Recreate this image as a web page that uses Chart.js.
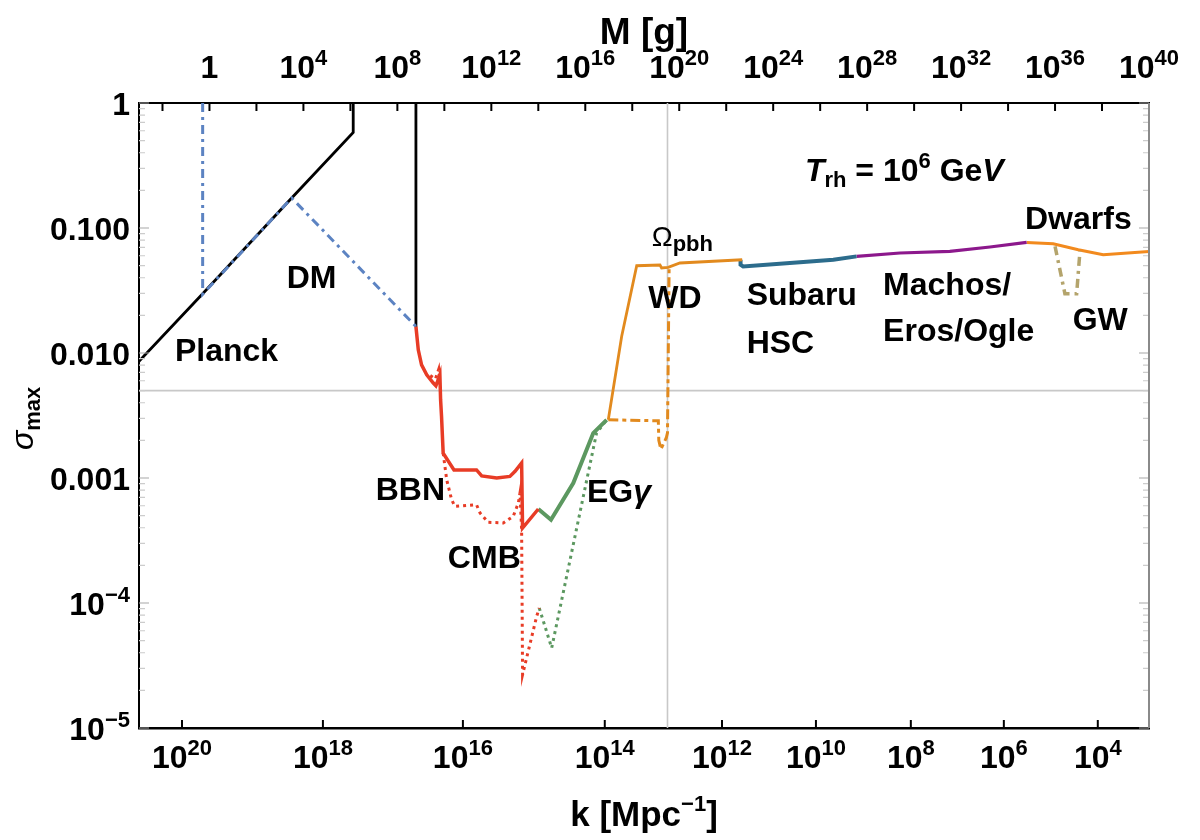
<!DOCTYPE html>
<html>
<head>
<meta charset="utf-8">
<script src="https://cdn.jsdelivr.net/npm/chart.js@4.4.1/dist/chart.umd.min.js"></script>
<style>
  body { margin: 0; background: #fff; }
  #wrap { width: 1200px; height: 840px; }
</style>
</head>
<body>
<div id="wrap"><canvas id="myChart"></canvas></div>
<script>
// curves: log10 of M [g] and sigma_max
const planckLogM = [-3.0, -0.33, 3.50, 6.12, 6.12];
const planckSigma = [0.00857, 0.0292, 0.174, 0.582, 1];

const planckCutLogM = [8.79, 8.79];
const planckCutSigma = [1, 0.0163];

const dmLogM = [-0.29, -0.29, 3.50, 8.79];
const dmSigma = [1, 0.0295, 0.174, 0.0163];

const bbnLogM = [8.79, 8.89, 9.03, 9.25, 9.53, 9.64, 9.74, 9.81, 9.84, 9.88, 9.95, 10.41, 11.37, 11.59, 12.23, 12.79, 13.01, 13.29, 13.33, 14.00];
const bbnSigma = [0.0163, 0.0106, 0.00805, 0.0067, 0.00575, 0.00547, 0.00611, 0.0067, 0.00423, 0.00311, 0.00158, 0.00116, 0.00116, 0.00104, 0.00100, 0.00103, 0.00113, 0.00132, 0.000398, 0.000565];

const bbnBumpLogM = [9.40, 9.62, 9.76, 9.80];
const bbnBumpSigma = [0.0066, 0.0062, 0.0074, 0.0060];

const cmbLogM = [9.95, 10.10, 10.31, 10.45, 11.37, 11.52, 11.87, 12.51, 12.93, 13.15, 13.22, 13.29, 13.33, 13.93, 14.04];
const cmbSigma = [0.00158, 0.000968, 0.00067, 0.000593, 0.000611, 0.000525, 0.000442, 0.000437, 0.000493, 0.00063, 0.000759, 0.000385, 0.0000267, 0.0000782, 0.0000912];

const egLogM = [14.00, 14.54, 15.49, 16.34, 16.91];
const egSigma = [0.000565, 0.000463, 0.000912, 0.00229, 0.00292];

const egDotLogM = [14.04, 14.57, 16.48, 16.91];
const egDotSigma = [0.0000912, 0.0000437, 0.00229, 0.00292];

const wdLogM = [16.98, 17.55, 18.19, 19.18, 19.25, 19.53, 20.03, 22.68];
const wdSigma = [0.00292, 0.0136, 0.0499, 0.0506, 0.0479, 0.0484, 0.0525, 0.0557];

const wdDashLogM = [16.98, 19.11, 19.13, 19.22, 19.45, 19.50, 19.57];
const wdDashSigma = [0.00292, 0.00287, 0.0020, 0.0017, 0.0021, 0.0023, 0.0493];

const hscLogM = [22.61, 22.61, 22.72, 25.14, 26.56, 27.55];
const hscSigma = [0.0557, 0.0508, 0.0493, 0.0531, 0.0557, 0.0593];

const machoLogM = [27.55, 29.40, 31.52, 33.23, 34.79];
const machoSigma = [0.0593, 0.0631, 0.0650, 0.0705, 0.0767];

const dwarfLogM = [34.79, 35.92, 36.99, 38.05, 40.0];
const dwarfSigma = [0.0767, 0.0748, 0.0670, 0.0611, 0.0650];

const gwLogM = [36.0, 36.42, 36.92, 37.06];
const gwSigma = [0.0713, 0.0298, 0.0298, 0.0650];

// reference lines
const refSigma = 0.005;
const refLogM = 19.5;

// ticks: [base, exponent]
const yTickValues = [1e-5, 1e-4, 1e-3, 1e-2, 1e-1, 1];
const yTickLabels = [['10', '−5'], ['10', '−4'], ['0.001', ''], ['0.010', ''], ['0.100', ''], ['1', '']];
const massTickExp = [-2, 0, 2, 4, 6, 8, 10, 12, 14, 16, 18, 20, 22, 24, 26, 28, 30, 32, 34, 36, 38, 40];
const kTickExp = [20, 18, 16, 14, 12, 10, 8, 6, 4];
const kTickLogM = [-1.17, 4.83, 10.79, 16.83, 21.82, 25.82, 29.86, 33.82, 37.82];

const FONT = '"Liberation Sans", Arial, Helvetica, sans-serif';
Chart.defaults.font.family = FONT;

const pts = (logM, sig) => logM.map((e, i) => ({ x: Math.pow(10, e), y: sig[i] }));

const line = (data, color, width, dash, order) => ({
  data: data,
  borderColor: color,
  borderWidth: width,
  borderDash: dash || [],
  pointRadius: 0,
  tension: 0,
  fill: false,
  order: order
});

const B = 'bold 32px ' + FONT;
const S = 'bold 22px ' + FONT;
const curveLabels = [
  { m: -1.47, s: -2.067, parts: [{ t: 'Planck', f: B }] },
  { m: 3.29, s: -1.48, parts: [{ t: 'DM', f: B }] },
  { m: 7.08, s: -3.174, parts: [{ t: 'BBN', f: B }] },
  { m: 10.15, s: -3.718, parts: [{ t: 'CMB', f: B }] },
  { m: 16.07, s: -3.19, parts: [{ t: 'EG', f: B }, { t: 'γ', f: 'italic bold 32px ' + FONT }] },
  { m: 18.83, s: -1.147, parts: [{ t: 'Ω', f: '28px ' + FONT }, { t: 'pbh', f: S, dy: 5 }] },
  { m: 18.68, s: -1.64, parts: [{ t: 'WD', f: B }] },
  { m: 22.87, s: -1.614, parts: [{ t: 'Subaru', f: B }] },
  { m: 22.87, s: -2.0, parts: [{ t: 'HSC', f: B }] },
  { m: 28.68, s: -1.534, parts: [{ t: 'Machos/', f: B }] },
  { m: 28.68, s: -1.907, parts: [{ t: 'Eros/Ogle', f: B }] },
  { m: 34.72, s: -1.006, parts: [{ t: 'Dwarfs', f: B }] },
  { m: 36.75, s: -1.814, parts: [{ t: 'GW', f: B }] },
  { m: 25.35, s: -0.627, parts: [
    { t: 'T', f: 'italic bold 32px ' + FONT }, { t: 'rh', f: S, dy: 6 },
    { t: ' = 10', f: B }, { t: '6', f: S, dy: -13 },
    { t: ' Ge', f: B }, { t: 'V', f: 'italic bold 32px ' + FONT }] }
];

function richWidth(ctx, parts) {
  let w = 0;
  parts.forEach(p => { ctx.font = p.f; w += ctx.measureText(p.t).width; });
  return w;
}

function drawRich(ctx, parts, x, y, align) {
  let cx = x;
  if (align === 'center') cx = x - richWidth(ctx, parts) / 2;
  if (align === 'right') cx = x - richWidth(ctx, parts);
  parts.forEach(p => {
    ctx.font = p.f;
    ctx.fillText(p.t, cx, y + (p.dy || 0));
    cx += ctx.measureText(p.t).width;
  });
}

const powParts = (base, exp) => exp ? [{ t: base, f: B }, { t: exp, f: S, dy: -13 }] : [{ t: base, f: B }];

const textPlugin = {
  id: 'textPlugin',
  afterDraw(chart) {
    const { ctx, chartArea: a, scales: { x, y, xk } } = chart;
    ctx.save();
    ctx.fillStyle = '#000';
    ctx.textAlign = 'left';
    ctx.textBaseline = 'alphabetic';
    curveLabels.forEach(l => {
      drawRich(ctx, l.parts, x.getPixelForValue(Math.pow(10, l.m)), y.getPixelForValue(Math.pow(10, l.s)));
    });

    // tick labels
    x.ticks.forEach((t, i) => {
      const e = massTickExp[i];
      if (e % 4 !== 0) return;
      const parts = e === 0 ? powParts('1', '') : powParts('10', String(e));
      drawRich(ctx, parts, x.getPixelForValue(t.value), a.top - 25, 'center');
    });
    xk.ticks.forEach((t, i) => {
      drawRich(ctx, powParts('10', String(kTickExp[i])), xk.getPixelForValue(t.value), a.bottom + 40, 'center');
    });
    y.ticks.forEach((t, i) => {
      const lab = yTickLabels[i];
      drawRich(ctx, powParts(lab[0], lab[1]), a.left - 9, y.getPixelForValue(t.value) + 12, 'right');
    });

    // axis titles
    const big = 'bold 35px ' + FONT;
    drawRich(ctx, [{ t: 'M [g]', f: 'bold 37px ' + FONT }], (a.left + a.right) / 2, 44, 'center');
    drawRich(ctx, [{ t: 'k [Mpc', f: big }, { t: '−1', f: S, dy: -15 }, { t: ']', f: big }], (a.left + a.right) / 2, 826, 'center');

    ctx.translate(33, 450);
    ctx.rotate(-Math.PI / 2);
    drawRich(ctx, [{ t: 'σ', f: 'italic 32px ' + FONT }, { t: 'max', f: S, dy: 7 }], 0, 0);
    ctx.restore();
  }
};

const tickPlugin = {
  id: 'tickPlugin',
  afterDatasetsDraw(chart) {
    const { ctx, chartArea: a, scales } = chart;
    ctx.save();
    // y ticks on both sides
    const y = scales.y;
    for (let d = -5; d <= 0; d++) {
      for (let m = 1; m <= 9; m++) {
        const v = m * Math.pow(10, d);
        if (v > 1.0001) break;
        const py = y.getPixelForValue(v);
        const len = m === 1 ? 10 : 6;
        ctx.strokeStyle = m === 1 ? '#a8a8a8' : '#cccccc';
        ctx.lineWidth = 1.2;
        ctx.beginPath();
        ctx.moveTo(a.left, py); ctx.lineTo(a.left + len, py);
        ctx.moveTo(a.right, py); ctx.lineTo(a.right - len, py);
        ctx.stroke();
      }
    }
    ctx.strokeStyle = '#000';
    ctx.lineWidth = 2;
    scales.x.ticks.forEach(t => {
      const px = scales.x.getPixelForValue(t.value);
      ctx.beginPath(); ctx.moveTo(px, a.top); ctx.lineTo(px, a.top + 8); ctx.stroke();
    });
    scales.xk.ticks.forEach(t => {
      const px = scales.xk.getPixelForValue(t.value);
      ctx.beginPath(); ctx.moveTo(px, a.bottom); ctx.lineTo(px, a.bottom - 8); ctx.stroke();
    });
    // right frame
    ctx.strokeStyle = '#8a8a8a';
    ctx.lineWidth = 2;
    ctx.beginPath(); ctx.moveTo(a.right, a.top); ctx.lineTo(a.right, a.bottom); ctx.stroke();
    ctx.restore();
  }
};

const ctx = document.getElementById('myChart');

new Chart(ctx, {
  type: 'line',
  data: {
    datasets: [
      line(pts(dmLogM, dmSigma), 'rgb(92,131,194)', 3, [9, 5, 3, 5], 1),
      line(pts(planckLogM, planckSigma), '#000', 2.8, [], 2),
      line(pts(planckCutLogM, planckCutSigma), '#000', 2.8, [], 2),
      line(pts(bbnLogM, bbnSigma), 'rgb(232,60,38)', 3.5, [], 2),
      line(pts(bbnBumpLogM, bbnBumpSigma), 'rgb(232,60,38)', 3, [3, 4], 3),
      line(pts(cmbLogM, cmbSigma), 'rgb(232,60,38)', 3, [3, 4], 3),
      line(pts(egLogM, egSigma), 'rgb(92,152,96)', 4, [], 2),
      line(pts(egDotLogM, egDotSigma), 'rgb(92,152,96)', 3, [3, 4], 3),
      line(pts(wdLogM, wdSigma), 'rgb(226,138,30)', 2.8, [], 2),
      line(pts(wdDashLogM, wdDashSigma), 'rgb(226,138,30)', 3, [10, 4, 4, 4], 3),
      line(pts(hscLogM, hscSigma), 'rgb(44,108,140)', 4, [], 2),
      line(pts(machoLogM, machoSigma), 'rgb(140,24,140)', 3.2, [], 2),
      line(pts(dwarfLogM, dwarfSigma), 'rgb(242,138,30)', 3, [], 2),
      line(pts(gwLogM, gwSigma), 'rgb(180,164,108)', 3.5, [9, 5, 3, 5], 1),
      line([{ x: 1e-3, y: refSigma }, { x: 1e40, y: refSigma }], '#c8c8c8', 1.6, [], 9),
      line([{ x: Math.pow(10, refLogM), y: 1e-5 }, { x: Math.pow(10, refLogM), y: 1 }], '#c8c8c8', 1.6, [], 9)
    ]
  },
  options: {
    responsive: true,
    maintainAspectRatio: false,
    animation: false,
    devicePixelRatio: 1,
    layout: { padding: { left: 0, right: 51, top: 0, bottom: 0 } },
    plugins: {
      legend: { display: false },
      tooltip: { enabled: false }
    },
    scales: {
      x: {
        type: 'logarithmic',
        position: 'top',
        min: 1e-3,
        max: 1e40,
        afterBuildTicks: s => { s.ticks = massTickExp.map(e => ({ value: Math.pow(10, e) })); },
        afterFit: s => { s.height = 103; },
        grid: { display: false, drawTicks: false },
        border: { display: true, color: '#000', width: 2 },
        ticks: { display: false, autoSkip: false }
      },
      xk: {
        type: 'logarithmic',
        position: 'bottom',
        min: 1e-3,
        max: 1e40,
        afterBuildTicks: s => { s.ticks = kTickLogM.map(e => ({ value: Math.pow(10, e) })); },
        afterFit: s => { s.height = 112; },
        grid: { display: false, drawTicks: false },
        border: { display: true, color: '#000', width: 2.5 },
        ticks: { display: false, autoSkip: false }
      },
      y: {
        type: 'logarithmic',
        position: 'left',
        min: 1e-5,
        max: 1,
        afterBuildTicks: s => { s.ticks = yTickValues.map(v => ({ value: v })); },
        afterFit: s => { s.width = 139; },
        grid: { display: false, drawTicks: false },
        border: { display: true, color: '#000', width: 2 },
        ticks: { display: false, autoSkip: false }
      }
    }
  },
  plugins: [tickPlugin, textPlugin]
});
</script>
</body>
</html>
